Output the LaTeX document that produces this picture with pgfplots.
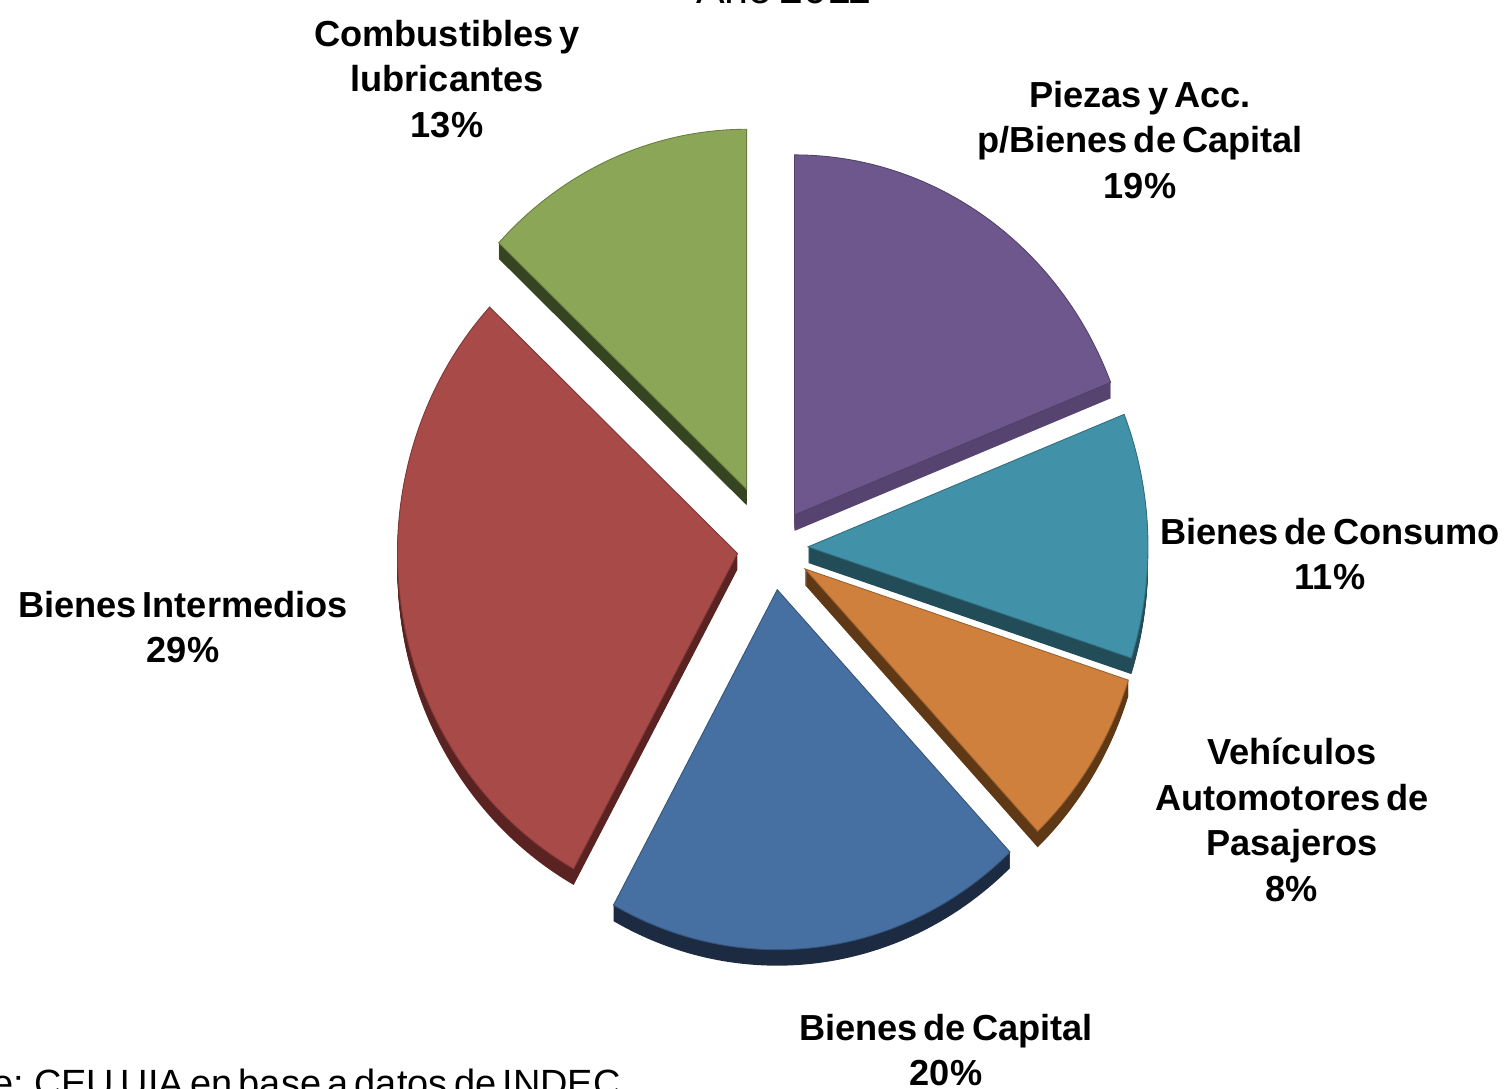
\documentclass[border=0pt]{standalone}
\usepackage{pgfplots}
\pgfplotsset{compat=1.18}
\usepackage{fontspec}
\setmainfont{Liberation Sans}[WordSpace=0.6]

\definecolor{piezas}{HTML}{6E578D}
\definecolor{piezasS}{HTML}{56436F}
\definecolor{consumo}{HTML}{4192A8}
\definecolor{consumoS}{HTML}{224C58}
\definecolor{vehic}{HTML}{D0803D}
\definecolor{vehicS}{HTML}{5F3816}
\definecolor{capital}{HTML}{4670A2}
\definecolor{capitalS}{HTML}{1C2B42}
\definecolor{interm}{HTML}{A84A48}
\definecolor{intermS}{HTML}{5A2322}
\definecolor{combus}{HTML}{8BA657}
\definecolor{combusS}{HTML}{364421}

% value (%) / explode / top colour / side colour, clockwise from 12 o'clock
\def\slices{19/0.40/piezas/piezasS, 11/0.36/consumo/consumoS, 8/0.39/vehic/vehicS, 20/0.42/capital/capitalS, 29/0.35/interm/intermS, 13/0.64/combus/combusS}
\def\cx{7.72}
\def\cy{5.40}
\def\rx{3.40}
\def\ry{3.60}

\begin{document}
\begin{tikzpicture}
\useasboundingbox (0,0) rectangle (15.11,10.88);
\clip (0,0) rectangle (15.11,10.88);
\begin{axis}[
  at={(0,0)}, anchor=south west,
  scale only axis, x=1cm, y=1cm,
  xmin=0, xmax=15.11, ymin=0, ymax=10.88,
  hide axis, clip=false,
]
\addplot[draw=none, forget plot] coordinates {(0,0)};
\pgfplotsextra{%
  % side faces
  \xdef\curang{90}%
  \foreach \v/\e/\ct/\cs in \slices {%
    \pgfmathsetmacro\a{\curang}%
    \pgfmathsetmacro\b{\curang-3.6*\v}%
    \pgfmathsetmacro\m{(\a+\b)/2}%
    \pgfmathsetmacro\px{\cx+\e*cos(\m)}%
    \pgfmathsetmacro\py{\cy+\e*sin(\m)}%
    \pgfmathsetmacro\sx{\rx*cos(\a)}%
    \pgfmathsetmacro\sy{\ry*sin(\a)}%
    \foreach \k in {1,...,16}{%
      \pgfmathsetmacro\pyk{\py-\k*0.01}%
      \fill[\cs] (\px cm,\pyk cm) -- ++(\sx cm,\sy cm) arc[start angle=\a, end angle=\b, x radius=\rx cm, y radius=\ry cm] -- cycle;
    }%
    \xdef\curang{\b}%
  }%
  % top faces
  \xdef\curang{90}%
  \foreach \v/\e/\ct/\cs in \slices {%
    \pgfmathsetmacro\a{\curang}%
    \pgfmathsetmacro\b{\curang-3.6*\v}%
    \pgfmathsetmacro\m{(\a+\b)/2}%
    \pgfmathsetmacro\px{\cx+\e*cos(\m)}%
    \pgfmathsetmacro\py{\cy+\e*sin(\m)}%
    \pgfmathsetmacro\sx{\rx*cos(\a)}%
    \pgfmathsetmacro\sy{\ry*sin(\a)}%
    \fill[\ct, draw=\ct!75!black, line width=0.25pt] (\px cm,\py cm) -- ++(\sx cm,\sy cm) arc[start angle=\a, end angle=\b, x radius=\rx cm, y radius=\ry cm] -- cycle;
    \xdef\curang{\b}%
  }%
}
\tikzset{lbl/.style={align=center, font=\fontsize{10.3}{13}\selectfont\bfseries, inner sep=0pt}}
\node[lbl] at (axis cs:4.47,10.09) {Combustibles y\\lubricantes\\13\%};
\node[lbl] at (axis cs:11.40,9.48) {Piezas y Acc.\\p/Bienes de Capital\\19\%};
\node[lbl] at (axis cs:13.30,5.34) {Bienes de Consumo\\11\%};
\node[lbl] at (axis cs:12.92,2.68) {Vehículos\\Automotores de\\Pasajeros\\8\%};
\node[lbl] at (axis cs:9.46,0.38) {Bienes de Capital\\20\%};
\node[lbl] at (axis cs:1.83,4.61) {Bienes Intermedios\\29\%};
\node[anchor=base, inner sep=0pt, font=\fontsize{12.2}{14}\selectfont] at (axis cs:7.84,10.84) {Año 2011};
\node[anchor=base west, inner sep=0pt, font=\fontsize{10.8}{12}\selectfont] at (axis cs:-1.05,-0.08) {Fuente: CEU UIA en base a datos de INDEC};
\end{axis}
\end{tikzpicture}
\end{document}
